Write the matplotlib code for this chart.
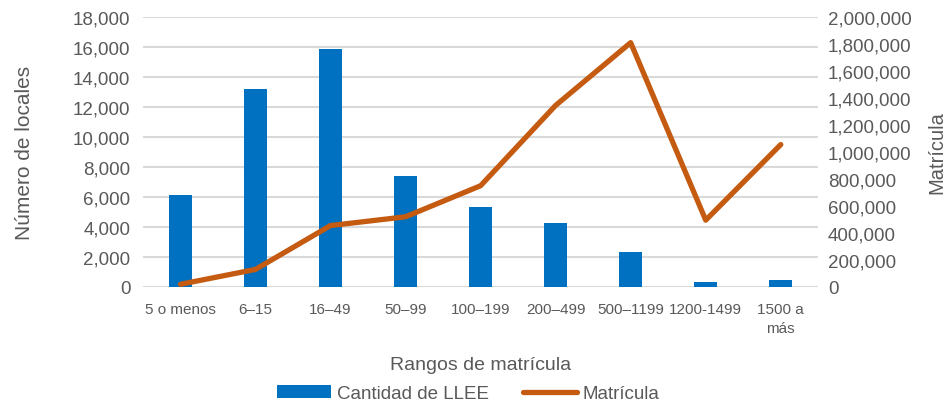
"""
Locales por rango de matrícula: barras (número de locales) y línea (matrícula).
"""

import matplotlib as mpl
mpl.use('Agg')

import numpy as np
import matplotlib.pyplot as plt
from matplotlib.ticker import FuncFormatter

# Data
rangos = ['5 o menos', '6–15', '16–49', '50–99', '100–199', '200–499',
          '500–1199', '1200-1499', '1500 a\nmás']
locales = [6100, 13200, 15850, 7400, 5330, 4280, 2340, 330, 470]
matricula = [20000, 130000, 455000, 520000, 750000, 1345000, 1810000, 495000, 1055000]

grey = '#595959'
blue = '#0070C0'
orange = '#C55A11'

plt.rcParams['font.family'] = ['Liberation Sans', 'DejaVu Sans']

fig = plt.figure(figsize=(9.46, 4.10), dpi=100)
ax0 = fig.add_axes([0.151, 0.2976, 0.714, 0.6585])
ax1 = ax0.twinx()

x = np.arange(len(rangos))
b0 = ax0.bar(x, locales, width=0.31, color=blue, zorder=2, label='Cantidad de LLEE')
l0, = ax1.plot(x, matricula, color=orange, linewidth=3.8, solid_capstyle='round',
               zorder=3, label='Matrícula')

ax0.set_xlim(-0.5, len(rangos) - 0.5)
ax0.set_ylim(0, 18000)
ax0.set_yticks(np.arange(0, 18001, 2000))
ax1.set_ylim(0, 2000000)
ax1.set_yticks(np.arange(0, 2000001, 200000))

fmt = FuncFormatter(lambda v, p: '{:,.0f}'.format(v))
ax0.yaxis.set_major_formatter(fmt)
ax1.yaxis.set_major_formatter(fmt)

ax0.yaxis.grid(True, color='#D9D9D9', linewidth=1.5, zorder=0)
ax0.set_axisbelow(True)
for ax in (ax0, ax1):
    for s in ax.spines.values():
        s.set_visible(False)
    ax.tick_params(length=0, colors=grey)
ax0.tick_params(axis='y', labelsize=13.5, pad=9)
ax1.tick_params(axis='y', labelsize=13.5, pad=7)
ax0.set_xticks(x)
ax0.set_xticklabels(rangos, fontsize=11, color=grey, linespacing=1.45, va='top')
ax0.tick_params(axis='x', pad=11)

ax0.set_ylabel('Número de locales', fontsize=15, color=grey, labelpad=28)
ax1.set_ylabel('Matrícula', fontsize=14.5, color=grey, labelpad=11)
ax0.set_xlabel('Rangos de matrícula', fontsize=14, color=grey, labelpad=15)

leg = fig.legend([b0, l0], ['Cantidad de LLEE', 'Matrícula'], loc='center',
                 bbox_to_anchor=(0.495, 0.037), ncol=2, frameon=False, fontsize=13.5,
                 handlelength=2.9, handleheight=0.7, columnspacing=1.8, handletextpad=0.3)
for t in leg.get_texts():
    t.set_color(grey)

fig.savefig('out.png', dpi=100)
plt.close()
